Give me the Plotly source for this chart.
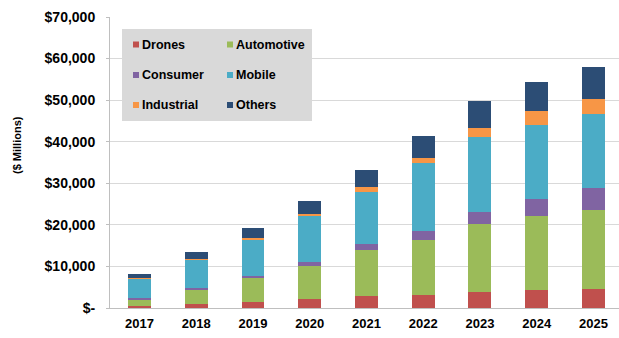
import plotly.graph_objects as go

# Revenue by application segment, $ millions
years = ["2017", "2018", "2019", "2020", "2021", "2022", "2023", "2024", "2025"]
drones = [500, 900, 1400, 2100, 2900, 3100, 3800, 4300, 4600]
automotive = [1500, 3400, 5700, 8000, 11050, 13300, 16300, 17900, 18900]
consumer = [400, 500, 600, 1000, 1450, 2100, 3100, 4000, 5300]
mobile = [4700, 6800, 8800, 11100, 12600, 16300, 17900, 17900, 17900]
industrial = [200, 300, 300, 400, 1000, 1200, 2200, 3300, 3600]
others = [1000, 1600, 2400, 3200, 4200, 5400, 6500, 6900, 7600]

series_names = ["Drones", "Automotive", "Consumer", "Mobile", "Industrial", "Others"]
series_values = [drones, automotive, consumer, mobile, industrial, others]
series_colors = ["#C0504D", "#9BBB59", "#8064A2", "#4BACC6", "#F79646", "#2C4D75"]

y_ticks = list(range(0, 70001, 10000))
y_ticktext = [f"${v:,}" if v else "$-" for v in y_ticks]

W, H = 619, 338
L, R, T, B = 110, 0, 17, 30
PW, PH = W - L - R, H - T - B

def px(x):
    return (x - L) / PW

def py(y):
    return (H - B - y) / PH

FONT = "Liberation Sans, Arial, sans-serif"
fig = go.Figure()
for name, vals, col in zip(series_names, series_values, series_colors):
    fig.add_trace(go.Bar(x=years, y=vals, name=name, marker=dict(color=col, line=dict(width=0)),
                         showlegend=False))

shapes = []
annotations = []
# legend panel
shapes.append(dict(type="rect", xref="paper", yref="paper", x0=px(122), x1=px(312), y0=py(121), y1=py(29),
                   fillcolor="#D9D9D9", line=dict(width=0), layer="above"))
col_x = [133, 227]
row_y = [44.5, 75, 105]
for i, (name, col) in enumerate(zip(series_names, series_colors)):
    cx = col_x[i % 2]
    cy = row_y[i // 2]
    shapes.append(dict(type="rect", xref="paper", yref="paper", x0=px(cx), x1=px(cx + 6),
                       y0=py(cy + 3), y1=py(cy - 3), fillcolor=col, line=dict(width=0), layer="above"))
    annotations.append(dict(text=f"<b>{name}</b>", xref="paper", yref="paper", x=px(cx + 7), y=py(cy),
                            xanchor="left", yanchor="middle", showarrow=False,
                            font=dict(family=FONT, size=12.5, color="#000000")))
# y-axis title
annotations.append(dict(text="<b>($ Millions)</b>", xref="paper", yref="paper", x=px(17), y=py(145),
                        textangle=-90, showarrow=False, xanchor="center", yanchor="middle",
                        font=dict(family=FONT, size=11, color="#000000")))

fig.update_layout(
    width=W, height=H, autosize=False,
    margin=dict(l=L, r=R, t=T, b=B, pad=0),
    barmode="stack", bargap=0.595,
    plot_bgcolor="#FFFFFF", paper_bgcolor="#FFFFFF",
    shapes=shapes, annotations=annotations,
    font=dict(family=FONT, color="#000000"),
    xaxis=dict(type="category", range=[-0.52, 8.45], showline=True, linecolor="#BFBFBF", linewidth=1,
               ticks="", tickfont=dict(family=FONT, size=13, color="#000000", weight="bold"),
               ticklabelstandoff=3, showgrid=False, fixedrange=True),
    yaxis=dict(range=[0, 70000], tickvals=y_ticks, ticktext=y_ticktext, showline=True,
               linecolor="#BFBFBF", linewidth=1, ticks="outside", ticklen=3, tickcolor="#BFBFBF",
               gridcolor="#D9D9D9", gridwidth=1, zeroline=False, ticklabelstandoff=8,
               tickfont=dict(family=FONT, size=14, color="#000000", weight="bold"), fixedrange=True),
)

fig.write_html("out.html")
